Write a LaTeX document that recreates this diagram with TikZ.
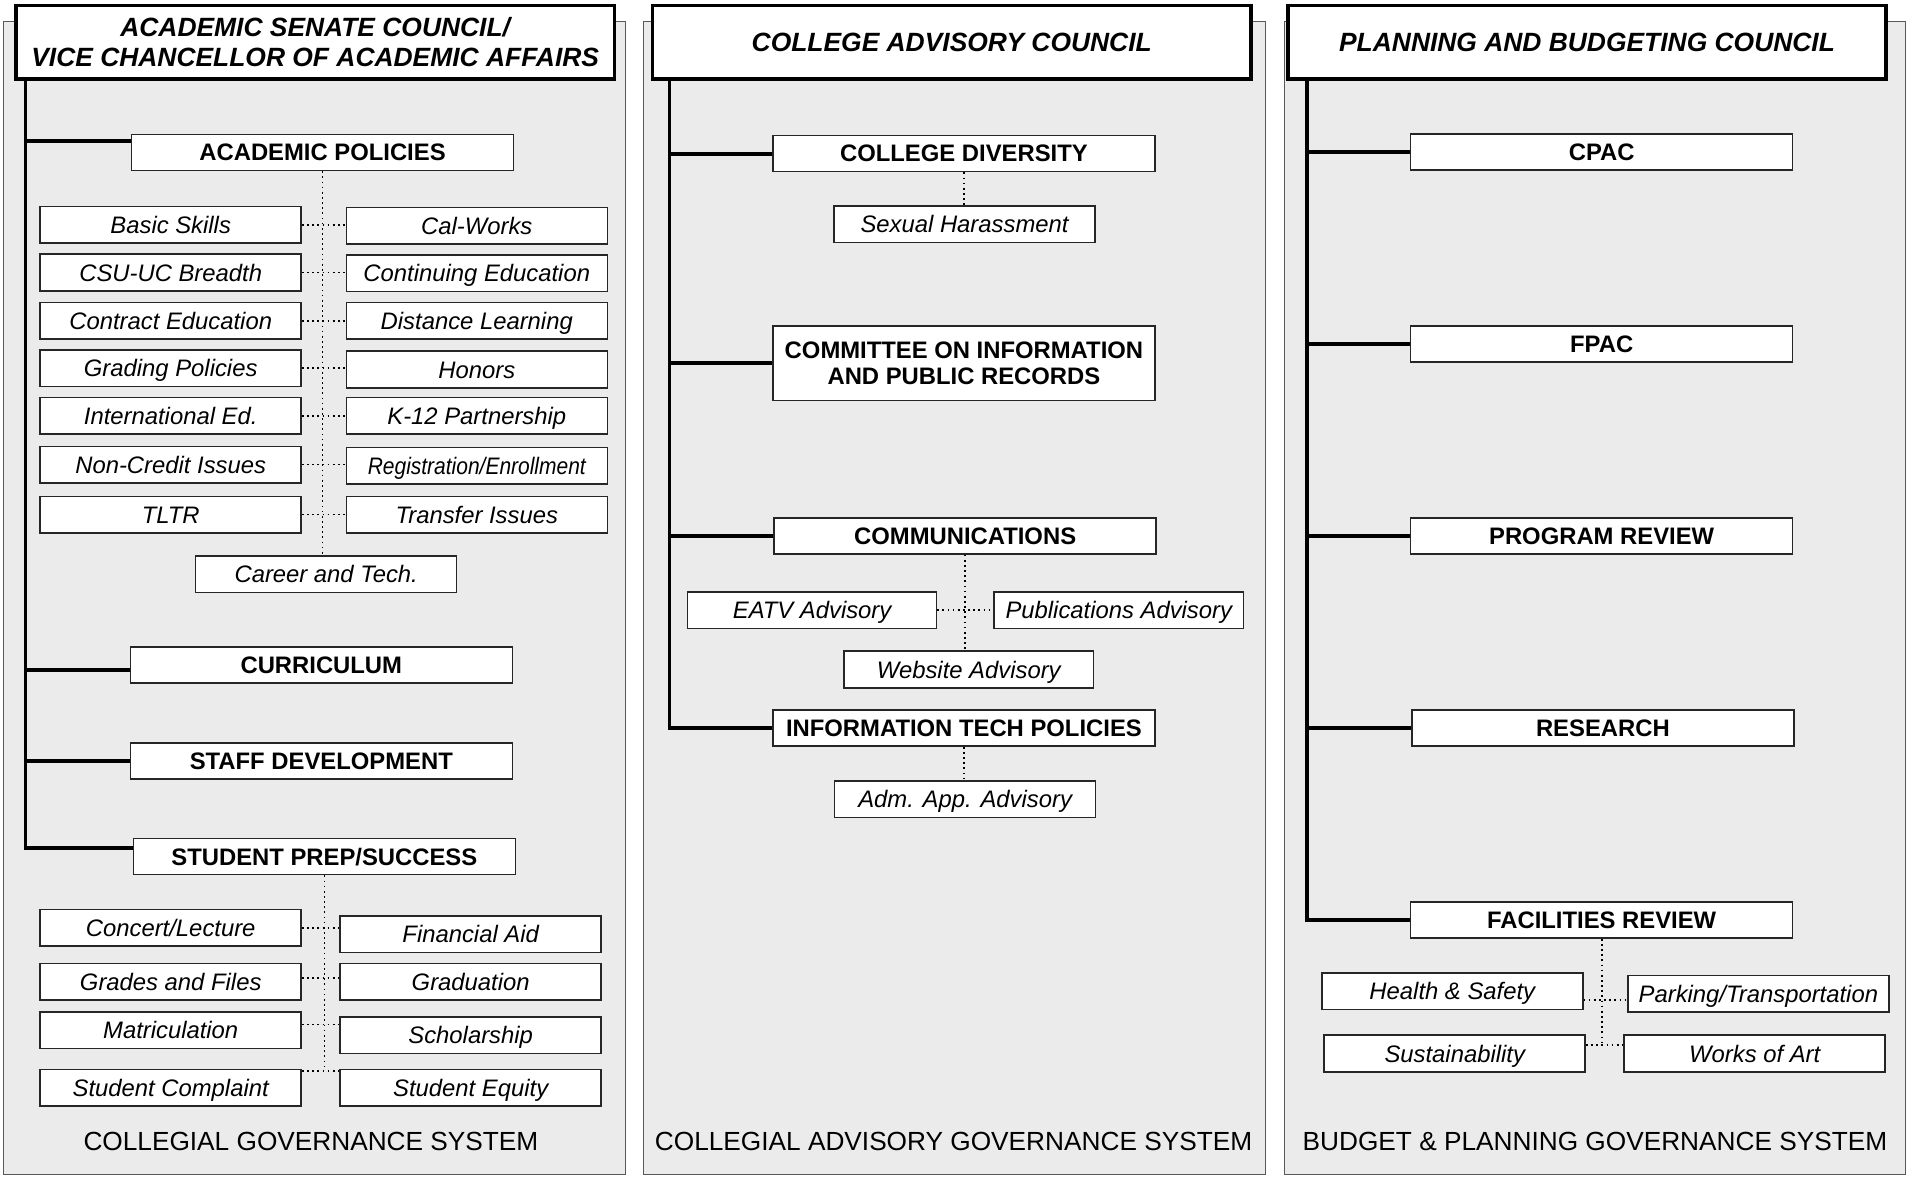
\documentclass[tikz,border=0pt]{standalone}
\usepackage{fontspec}
\setmainfont{Liberation Sans}
\begin{document}
\begin{tikzpicture}[
       x=0.025cm, y=-0.025cm,
       panel/.style={
         draw=black!65,
         line width=0.6pt,
         fill=black!8
       },
       council/.style={
         draw,
         line width=2.2pt,
         fill=white,
         minimum width=12.27cm,
         minimum height=1.5cm,
         inner sep=0pt,
         align=center,
         font=\fontsize{15.4}{17}\selectfont\bfseries\itshape
       },
       committee/.style={
         draw=black!85,
         line width=0.9pt,
         fill=white,
         minimum width=7.83cm,
         minimum height=0.74cm,
         inner sep=0pt,
         align=center,
         font=\fontsize{13.9}{15.6}\selectfont\bfseries
       },
       sub/.style={
         draw=black!85,
         line width=0.9pt,
         fill=white,
         minimum width=5.35cm,
         minimum height=0.75cm,
         inner sep=0pt,
         text height=10pt,
         text depth=0pt,
         font=\fontsize{13.9}{15.6}\selectfont\itshape
       },
       system/.style={font=\fontsize{15.3}{17}\selectfont},
       trunk/.style={line width=2.2pt},
       dots/.style={dotted, line width=1pt}
     ]

       \useasboundingbox (0,0) rectangle (1568,965);

       \draw[panel] (3,18) rectangle (513,963);
       \draw[panel] (528,18) rectangle (1038,963);
       \draw[panel] (1053,18) rectangle (1563,963);

       % collegial governance
       \node (hdA) at (258.5,34.5) [council]{ACADEMIC SENATE COUNCIL/\\VICE CHANCELLOR OF ACADEMIC AFFAIRS};
       \coordinate (tA) at (21,64);

       \node (ap) at (264.5,125) [committee]{ACADEMIC POLICIES};
       \node (bs) at (140,184.5) [sub]{Basic Skills};
       \node (cw) at (391,185) [sub]{Cal-Works};
       \node (cub) at (140,223.5) [sub]{CSU-UC Breadth};
       \node (ced) at (391,224) [sub]{Continuing Education};
       \node (ctr) at (140,263) [sub]{Contract Education};
       \node (dl) at (391,263) [sub]{Distance Learning};
       \node (gp) at (140,302) [sub]{Grading Policies};
       \node (hon) at (391,303) [sub]{Honors};
       \node (ie) at (140,341) [sub]{International Ed.};
       \node (kp) at (391,341) [sub]{K-12 Partnership};
       \node (nc) at (140,381) [sub]{Non-Credit Issues};
       \node (reg) at (391,382) [sub]{\scalebox{0.88}[1]{Registration/Enrollment}};
       \node (tltr) at (140,422) [sub]{TLTR};
       \node (ti) at (391,422) [sub]{Transfer Issues};
       \node (cat) at (267.5,471) [sub]{Career and Tech.};

       \node (cur) at (263.5,545.5) [committee]{CURRICULUM};
       \node (sd) at (263.5,624) [committee]{STAFF DEVELOPMENT};
       \node (stud) at (266,702.5) [committee]{STUDENT PREP/SUCCESS};

       \node (cl) at (140,761) [sub]{Concert/Lecture};
       \node (fa) at (386,766) [sub]{Financial Aid};
       \node (gf) at (140,805) [sub]{Grades and Files};
       \node (gr) at (386,805) [sub]{Graduation};
       \node (mat) at (140,845) [sub]{Matriculation};
       \node (sch) at (386,849) [sub]{Scholarship};
       \node (sc) at (140,892) [sub]{Student Complaint};
       \node (se) at (386,892) [sub]{Student Equity};

       \node (sysA) at (255,936) [system]{COLLEGIAL GOVERNANCE SYSTEM};

       \draw[trunk] ([yshift=0.18cm]stud.west) -| (tA);
       \draw[trunk] ([yshift=0.24cm]ap.west) -| (tA);
       \draw[trunk] ([yshift=-0.1cm]cur.west) -| (tA);
       \draw[trunk] (sd.west) -| (tA);

       \draw[dots] (ap.south) -- (ap.south |- cat.north);
       \draw[dots] (bs.east) -- (bs.east -| cw.west);
       \draw[dots] (cub.east) -- (cub.east -| ced.west);
       \draw[dots] (ctr.east) -- (ctr.east -| dl.west);
       \draw[dots] (gp.east) -- (gp.east -| hon.west);
       \draw[dots] (ie.east) -- (ie.east -| kp.west);
       \draw[dots] (nc.east) -- (nc.east -| reg.west);
       \draw[dots] (tltr.east) -- (tltr.east -| ti.west);

       \draw[dots] (stud.south) -- (stud.south |- sc.north);
       \draw[dots] (cl.east) -- (cl.east -| fa.west);
       \draw[dots] ([yshift=0.07cm]gf.east) -- ([yshift=0.07cm]gf.east -| gr.west);
       \draw[dots] ([yshift=0.12cm]mat.east) -- ([yshift=0.12cm]mat.east -| sch.west);
       \draw[dots] ([yshift=-0.05cm]sc.north east) -- ([yshift=-0.05cm]sc.north east -| se.west);

       % collegial advisory governance
       \node (hdB) at (780.5,34.5) [council]{COLLEGE ADVISORY COUNCIL};
       \coordinate (tB) at (549,64);

       \node (cdv) at (790.5,126) [committee]{COLLEGE DIVERSITY};
       \node (sh) at (791,184) [sub]{Sexual Harassment};
       \node (cip) at (790.5,298) [committee, minimum height=1.525cm]{COMMITTEE ON INFORMATION\\AND PUBLIC RECORDS};
       \node (com) at (791.5,439.5) [committee]{COMMUNICATIONS};
       \node (eatv) at (666,500.5) [sub, minimum width=5.1cm]{EATV Advisory};
       \node (pub) at (917.5,500.5) [sub, minimum width=5.12cm]{Publications Advisory};
       \node (web) at (794.5,549) [sub, minimum width=5.12cm]{Website Advisory};
       \node (itp) at (790.5,597) [committee]{INFORMATION TECH POLICIES};
       \node (adm) at (791.5,655.5) [sub]{Adm. App. Advisory};

       \node (sysB) at (782,936) [system]{COLLEGIAL ADVISORY GOVERNANCE SYSTEM};

       \draw[trunk] (itp.west) -| (tB);
       \draw[trunk] (cdv.west) -| (tB);
       \draw[trunk] (cip.west) -| (tB);
       \draw[trunk] (com.west) -| (tB);

       \draw[dots] (cdv.south) -- (cdv.south |- sh.north);
       \draw[dots] (com.south) -- (com.south |- web.north);
       \draw[dots] (eatv.east) -- (pub.west);
       \draw[dots] (itp.south) -- (itp.south |- adm.north);

       % budget and planning governance
       \node (hdC) at (1301.5,34.5) [council]{PLANNING AND BUDGETING COUNCIL};
       \coordinate (tC) at (1072,64);

       \node (cpac) at (1313.5,124.5) [committee]{CPAC};
       \node (fpac) at (1313.5,282) [committee]{FPAC};
       \node (prv) at (1313.5,439.5) [committee]{PROGRAM REVIEW};
       \node (res) at (1314.5,597) [committee]{RESEARCH};
       \node (fac) at (1313.5,754.5) [committee]{FACILITIES REVIEW};

       \node (hs) at (1191,813) [sub]{Health \& Safety};
       \node (pt) at (1442,815) [sub]{Parking/Transportation};
       \node (sus) at (1193,864) [sub]{Sustainability};
       \node (woa) at (1439,864) [sub]{Works of Art};

       \node (sysC) at (1308,936) [system]{BUDGET \& PLANNING GOVERNANCE SYSTEM};

       \draw[trunk] (fac.west) -| (tC);
       \draw[trunk] (cpac.west) -| (tC);
       \draw[trunk] (fpac.west) -| (tC);
       \draw[trunk] (prv.west) -| (tC);
       \draw[trunk] (res.west) -| (tC);

       \coordinate (fr1) at ([yshift=-0.18cm]hs.east);
       \coordinate (fr2) at ([yshift=0.18cm]sus.east);
       \draw[dots] (fac.south) -- (fac.south |- fr2);
       \draw[dots] (fr1) -- (fr1 -| pt.west);
       \draw[dots] (fr2) -- (fr2 -| woa.west);

\end{tikzpicture}
\end{document}
